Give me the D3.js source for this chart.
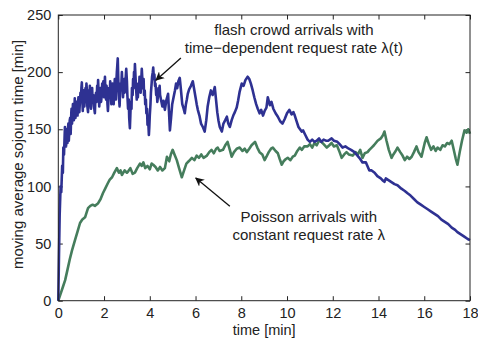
<!DOCTYPE html>
<html lang="en">
  <head>
    <script src="https://d3js.org/d3.v7.min.js"></script>
    <meta charset="UTF-8" />
    <title>Sojourn time</title>
    <style>
      body { margin: 0; background: #fff; }
      text { font-family: "Liberation Sans", Arial, sans-serif; fill: #222; }
    </style>
  </head>
  <body>
    <svg width="478" height="338"></svg>
    <script>
      // [time (min), moving average sojourn time (min)]
      var flashCrowd = [
        [0,0],[0.03,40],[0.06,75],[0.1,100],[0.13,95],[0.17,118],[0.2,112],[0.22,134],[0.25,128],
        [0.29,152],[0.31,138],[0.32,146],[0.34,135],[0.36,150],[0.38,142],[0.4,138],[0.42,150],[0.44,155],[0.46,140],
        [0.48,148],[0.5,158],[0.52,160],[0.54,146],[0.55,152],[0.57,165],[0.58,168],[0.6,155],[0.62,162],[0.64,172],
        [0.66,166],[0.68,158],[0.7,165],[0.72,177],[0.73,172],[0.75,160],[0.77,166],[0.8,174],[0.82,168],[0.84,162],
        [0.86,170],[0.88,178],[0.9,170],[0.92,165],[0.95,176],[0.97,182],[0.99,175],[1.01,186],[1.03,191],[1.05,176],
        [1.07,166],[1.09,178],[1.12,184],[1.14,170],[1.16,176],[1.19,186],[1.21,178],[1.23,190],[1.25,184],[1.27,170],
        [1.3,165],[1.32,176],[1.34,184],[1.36,176],[1.38,188],[1.41,172],[1.43,168],[1.45,180],[1.48,186],[1.5,174],
        [1.53,180],[1.56,170],[1.6,164],[1.62,176],[1.65,182],[1.67,174],[1.7,188],[1.72,180],[1.74,193],[1.77,178],
        [1.79,170],[1.82,180],[1.84,186],[1.87,174],[1.9,180],[1.92,190],[1.95,184],[1.97,192],[2.0,178],[2.02,188],
        [2.04,196],[2.06,182],[2.09,176],[2.11,188],[2.13,182],[2.15,172],[2.17,166],[2.2,178],[2.22,186],[2.25,180],
        [2.27,192],[2.3,182],[2.32,172],[2.35,184],[2.37,190],[2.4,178],[2.42,172],[2.45,186],[2.47,194],[2.5,184],
        [2.52,176],[2.54,192],[2.56,200],[2.58,206],[2.6,212],[2.62,196],[2.64,184],[2.66,176],[2.68,170],[2.7,182],
        [2.72,190],[2.75,186],[2.78,200],[2.8,190],[2.83,178],[2.85,186],[2.88,194],[2.9,182],[2.93,188],[2.95,196],
        [2.97,203],[3.0,192],[3.02,180],[3.05,168],[3.08,176],[3.1,160],[3.13,151],[3.15,162],[3.17,174],[3.2,168],
        [3.22,186],[3.25,180],[3.27,194],[3.29,186],[3.31,200],[3.33,192],[3.35,207],[3.38,194],[3.4,186],[3.43,176],
        [3.45,184],[3.48,178],[3.5,190],[3.53,184],[3.55,196],[3.58,188],[3.6,182],[3.63,194],[3.65,203],[3.68,192],
        [3.7,186],[3.73,194],[3.75,180],[3.78,184],[3.8,172],[3.83,176],[3.85,164],[3.88,168],[3.9,154],[3.93,158],
        [3.96,145],[3.98,152],[4.0,162],[4.03,172],[4.05,182],[4.08,190],[4.1,196],[4.13,200],[4.15,204],[4.18,194],
        [4.2,198],[4.23,188],[4.25,190],[4.28,180],[4.3,184],[4.33,174],[4.35,178],[4.38,186],[4.4,182],[4.43,188],
        [4.45,180],[4.5,175],[4.55,170],[4.6,175],[4.66,167],[4.72,175],[4.8,181],[4.84,165],[4.88,149],[4.93,160],
        [4.98,172],[5.04,178],[5.1,184],[5.15,190],[5.2,186],[5.25,192],[5.31,195],[5.36,185],[5.42,172],[5.48,168],
        [5.53,164],[5.58,172],[5.62,176],[5.66,181],[5.72,185],[5.8,188],[5.88,192],[5.94,185],[6.0,178],[6.05,172],
        [6.1,167],[6.17,162],[6.24,155],[6.32,152],[6.4,148],[6.47,158],[6.53,170],[6.6,178],[6.67,184],[6.75,180],
        [6.84,187],[6.9,175],[6.95,165],[7.0,158],[7.06,152],[7.15,148],[7.22,155],[7.3,158],[7.37,161],[7.43,155],
        [7.5,152],[7.58,158],[7.65,162],[7.72,165],[7.8,169],[7.86,175],[7.93,183],[8.02,190],[8.1,188],[8.18,193],
        [8.28,196],[8.35,194],[8.42,190],[8.5,184],[8.57,178],[8.65,172],[8.72,168],[8.8,164],[8.87,167],[8.95,162],
        [9.02,166],[9.1,169],[9.16,178],[9.2,175],[9.25,171],[9.32,174],[9.4,168],[9.5,164],[9.6,161],[9.7,157],
        [9.8,155],[9.9,159],[10.0,164],[10.1,167],[10.2,163],[10.28,165],[10.34,162],[10.42,157],[10.5,152],[10.57,150],
        [10.64,148],[10.7,149],[10.8,145],[10.9,141],[11.0,139],[11.1,141],[11.2,139],[11.3,140],[11.4,142],[11.5,139],
        [11.6,141],[11.7,140],[11.8,140],[11.95,142],[12.05,140],[12.2,139],[12.3,137],[12.43,134],[12.55,135],[12.7,133],
        [12.8,132],[12.95,130],[13.08,127],[13.2,124],[13.3,121],[13.45,121],[13.6,114],[13.7,114],[13.83,112],[13.95,109],
        [14.1,107],[14.2,105],[14.26,104],[14.32,107],[14.4,106],[14.55,104],[14.7,102],[14.83,101],[15.0,98],[15.15,96],
        [15.27,94],[15.4,92],[15.55,89],[15.7,86],[15.85,84],[16.0,82],[16.15,80],[16.3,78],[16.45,76],[16.6,74],
        [16.75,71],[16.9,69],[17.05,67],[17.2,64],[17.35,62],[17.45,60],[17.6,58],[17.75,56],[17.9,54],[18,53]
      ];

      var poisson = [
        [0,0],[0.1,6],[0.2,12],[0.3,18],[0.4,27],[0.5,36],[0.6,44],[0.73,53],[0.85,61],[0.95,68],
        [1.05,71],[1.17,73],[1.25,78],[1.3,81],[1.4,83],[1.5,84],[1.6,83],[1.73,85],[1.85,89],[1.95,94],
        [2.05,98],[2.17,103],[2.25,106],[2.35,108],[2.45,112],[2.56,116],[2.65,112],[2.72,114],[2.78,110],[2.9,114],
        [3.0,112],[3.05,113],[3.15,116],[3.25,111],[3.35,112],[3.45,116],[3.57,120],[3.65,118],[3.72,121],[3.8,116],
        [3.9,118],[4.0,115],[4.08,120],[4.15,119],[4.25,117],[4.35,114],[4.45,117],[4.55,114],[4.66,116],[4.75,126],
        [4.85,122],[4.92,128],[5.0,132],[5.08,128],[5.18,123],[5.28,116],[5.4,108],[5.5,114],[5.6,120],[5.7,122],
        [5.84,125],[5.95,123],[6.05,127],[6.15,125],[6.25,128],[6.35,125],[6.5,127],[6.6,130],[6.7,132],[6.8,129],
        [6.9,133],[6.97,134],[7.05,131],[7.2,132],[7.3,136],[7.4,139],[7.5,132],[7.58,126],[7.68,130],[7.8,133],
        [7.93,134],[8.05,131],[8.15,133],[8.24,130],[8.35,133],[8.45,136],[8.6,139],[8.7,134],[8.8,130],[8.92,128],
        [9.02,123],[9.1,126],[9.2,130],[9.3,133],[9.38,134],[9.5,131],[9.6,129],[9.68,124],[9.77,119],[9.85,122],
        [9.95,124],[10.03,125],[10.15,123],[10.25,126],[10.34,127],[10.45,131],[10.56,134],[10.65,132],[10.75,135],[10.9,135],
        [11.0,137],[11.1,134],[11.2,138],[11.3,136],[11.4,140],[11.5,139],[11.6,137],[11.74,134],[11.85,136],[11.95,138],
        [12.05,135],[12.18,136],[12.3,130],[12.39,125],[12.5,128],[12.6,130],[12.7,128],[12.87,127],[13.0,130],[13.1,128],
        [13.2,132],[13.3,125],[13.4,129],[13.52,130],[13.6,132],[13.7,134],[13.8,136],[13.96,140],[14.1,142],[14.2,145],
        [14.26,148],[14.35,140],[14.45,132],[14.57,125],[14.65,128],[14.75,131],[14.83,134],[14.95,130],[15.05,127],[15.15,123],
        [15.25,126],[15.35,124],[15.45,126],[15.55,130],[15.66,135],[15.75,130],[15.88,126],[15.95,132],[16.02,138],[16.1,143],
        [16.2,137],[16.3,132],[16.4,135],[16.5,131],[16.58,134],[16.7,132],[16.8,136],[16.9,135],[17.0,138],[17.1,137],
        [17.2,140],[17.28,133],[17.38,124],[17.45,119],[17.55,130],[17.65,140],[17.76,149],[17.85,147],[17.92,150],[18,146]
      ];

      var xTicks = [0, 2, 4, 6, 8, 10, 12, 14, 16, 18];
      var yTicks = [0, 50, 100, 150, 200, 250];

      var svg = d3.select("svg");
      var plotLeft = 58.3, plotRight = 470, plotTop = 15, plotBottom = 300.7;

      var x = d3.scaleLinear().domain([0, 18]).range([plotLeft, plotRight]);
      var y = d3.scaleLinear().domain([0, 250]).range([plotBottom, plotTop]);

      // box axes, ticks pointing inward like matlab
      var tick = 4.5;
      svg.append("g")
        .attr("transform", "translate(0," + plotBottom + ")")
        .call(d3.axisBottom(x).tickValues(xTicks).tickSizeInner(-tick).tickSizeOuter(0).tickPadding(7.5))
        .call(function (g) { g.select(".domain").remove(); });
      svg.append("g")
        .attr("transform", "translate(0," + plotTop + ")")
        .call(d3.axisTop(x).tickValues(xTicks).tickSizeInner(-tick).tickSizeOuter(0).tickFormat(""))
        .call(function (g) { g.select(".domain").remove(); });
      svg.append("g")
        .attr("transform", "translate(" + plotLeft + ",0)")
        .call(d3.axisLeft(y).tickValues(yTicks).tickSizeInner(-tick).tickSizeOuter(0).tickPadding(7))
        .call(function (g) { g.select(".domain").remove(); });
      svg.append("g")
        .attr("transform", "translate(" + plotRight + ",0)")
        .call(d3.axisRight(y).tickValues(yTicks).tickSizeInner(-tick).tickSizeOuter(0).tickFormat(""))
        .call(function (g) { g.select(".domain").remove(); });

      svg.selectAll(".tick text")
        .attr("font-size", "14.5px")
        .attr("font-family", "Liberation Sans, Arial, sans-serif")
        .attr("fill", "#222");
      svg.selectAll(".tick line").attr("stroke", "#222");

      var line = d3.line()
        .x(function (d) { return x(d[0]); })
        .y(function (d) { return y(d[1]); });

      svg.append("path")
        .datum(poisson)
        .attr("d", line)
        .attr("fill", "none")
        .attr("stroke", "#457d5c")
        .attr("stroke-width", 2.6)
        .attr("stroke-linejoin", "round");

      svg.append("path")
        .datum(flashCrowd)
        .attr("d", line)
        .attr("fill", "none")
        .attr("stroke", "#2e3192")
        .attr("stroke-width", 2.6)
        .attr("stroke-linejoin", "round");

      svg.append("rect")
        .attr("x", plotLeft)
        .attr("y", plotTop)
        .attr("width", plotRight - plotLeft)
        .attr("height", plotBottom - plotTop)
        .attr("fill", "none")
        .attr("stroke", "#222")
        .attr("stroke-width", 1);

      // axis labels
      svg.append("text")
        .attr("x", x(9))
        .attr("y", 334.5)
        .attr("text-anchor", "middle")
        .attr("font-size", "14.5px")
        .text("time [min]");
      svg.append("text")
        .attr("transform", "translate(23," + y(128) + ") rotate(-90)")
        .attr("text-anchor", "middle")
        .attr("font-size", "15px")
        .text("moving average sojourn time [min]");

      // annotations
      var defs = svg.append("defs");
      defs.append("marker")
        .attr("id", "head")
        .attr("viewBox", "0 0 10 10")
        .attr("refX", 9)
        .attr("refY", 5)
        .attr("markerWidth", 9)
        .attr("markerHeight", 9)
        .attr("markerUnits", "userSpaceOnUse")
        .attr("orient", "auto")
        .append("path")
        .attr("d", "M0,0 L10,5 L0,10 L3,5 Z")
        .attr("fill", "#111");

      var notes = [
        { lines: ["flash crowd arrivals with", "time\u2212dependent request rate \u03bb(t)"], t: 10.3, v: 232.5 },
        { lines: ["Poisson arrivals with", "constant request rate \u03bb"], t: 10.95, v: 68.9 }
      ];
      var arrows = [
        { from: [5.36, 212.4], to: [4.27, 193] },
        { from: [7.5, 82.7], to: [6.01, 107.4] }
      ];

      notes.forEach(function (n) {
        n.lines.forEach(function (s, i) {
          svg.append("text")
            .attr("x", x(n.t))
            .attr("y", y(n.v) + i * 18)
            .attr("text-anchor", "middle")
            .attr("font-size", "15px")
            .text(s);
        });
      });

      arrows.forEach(function (a) {
        svg.append("line")
          .attr("x1", x(a.from[0]))
          .attr("y1", y(a.from[1]))
          .attr("x2", x(a.to[0]))
          .attr("y2", y(a.to[1]))
          .attr("stroke", "#111")
          .attr("stroke-width", 1.3)
          .attr("marker-end", "url(#head)");
      });
    </script>
  </body>
</html>
